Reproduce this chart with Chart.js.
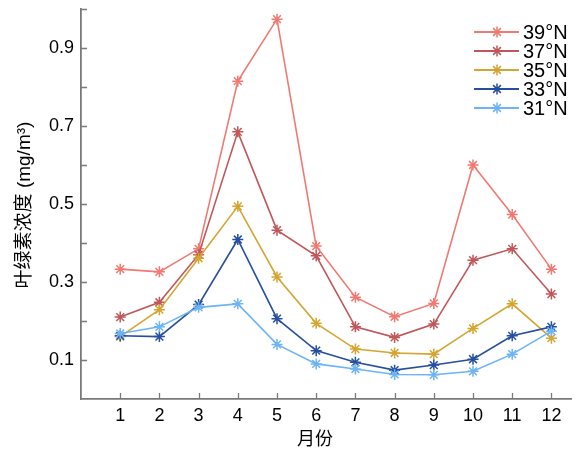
<!DOCTYPE html>
<html>
<head>
<meta charset="utf-8">
<script src="https://cdn.jsdelivr.net/npm/chart.js@4/dist/chart.umd.min.js"></script>
<style>
html,body{margin:0;padding:0;background:#fff;}
#wrap{width:578px;height:450px;position:relative;}
</style>
</head>
<body>
<div id="wrap"><canvas id="c" width="578" height="450"></canvas></div>
<script>
const months = [1,2,3,4,5,6,7,8,9,10,11,12];
const seriesLabels = ['39°N','37°N','35°N','33°N','31°N'];
const v39N = [0.333,0.326,0.385,0.815,0.974,0.392,0.261,0.211,0.245,0.600,0.473,0.333];
const v37N = [0.210,0.248,0.370,0.685,0.433,0.367,0.185,0.158,0.192,0.356,0.385,0.269];
const v35N = [0.160,0.229,0.361,0.494,0.313,0.194,0.128,0.118,0.115,0.181,0.244,0.156];
const v33N = [0.162,0.160,0.242,0.409,0.206,0.124,0.094,0.074,0.087,0.102,0.162,0.185];
const v31N = [0.168,0.185,0.235,0.244,0.140,0.090,0.077,0.063,0.062,0.071,0.115,0.174];
const seriesValues = [v39N,v37N,v35N,v33N,v31N];
const seriesColors = ['#F07A72','#C0575A','#D4A530','#264F9E','#6CB4F4'];
const yTickValues = [0.1,0.2,0.3,0.4,0.5,0.6,0.7,0.8,0.9,1.0];
const xTitle = '月份';
const yTitle = '叶绿素浓度 (mg/m³)';

const FONT = "'Liberation Sans', Arial, 'Noto Sans CJK SC', sans-serif";
const AXIS_COLOR = '#7a7a7a';

const datasets = seriesLabels.map((lab, i) => ({
  label: lab,
  data: months.map((m, j) => ({x: m, y: seriesValues[i][j]})),
  borderColor: seriesColors[i],
  backgroundColor: seriesColors[i],
  borderWidth: 1.6,
  pointStyle: 'star',
  pointRadius: 5.5,
  pointBorderWidth: 1.5,
  pointBorderColor: seriesColors[i],
  tension: 0,
  order: seriesLabels.length - i
}));

function zeroPad(s) { s.paddingTop = 0; s.paddingBottom = 0; s.paddingLeft = 0; s.paddingRight = 0; }

const decorPlugin = {
  id: 'decor',
  afterDraw(chart) {
    const ctx = chart.ctx;
    const xs = chart.scales.x, ys = chart.scales.y;
    const a = chart.chartArea;
    ctx.save();
    // inward tick marks
    ctx.strokeStyle = AXIS_COLOR;
    ctx.lineWidth = 1.3;
    ctx.beginPath();
    months.forEach(m => {
      const px = Math.round(xs.getPixelForValue(m)) + 0.5;
      ctx.moveTo(px, a.bottom);
      ctx.lineTo(px, a.bottom - 6);
    });
    yTickValues.forEach(v => {
      const py = Math.round(ys.getPixelForValue(v)) + 0.5;
      ctx.moveTo(a.left, py);
      ctx.lineTo(a.left + 6, py);
    });
    ctx.stroke();

    // axis titles
    ctx.fillStyle = '#000';
    ctx.font = "18px 'Noto Sans CJK SC', " + FONT;
    ctx.textAlign = 'center';
    ctx.textBaseline = 'middle';
    ctx.fillText(xTitle, (a.left + a.right) / 2 - 11, 438);
    ctx.save();
    ctx.translate(25, (a.top + a.bottom) / 2 + 1);
    ctx.rotate(-Math.PI / 2);
    ctx.font = "19px " + FONT;
    ctx.fillText(yTitle, 0, 0);
    ctx.restore();

    // legend
    const lx0 = 474, lx1 = 519, mx = 497, tx = 523;
    const rows = [32, 51, 70, 89, 108];
    ctx.font = "20px " + FONT;
    ctx.textAlign = 'left';
    ctx.textBaseline = 'middle';
    seriesLabels.forEach((lab, i) => {
      const y = rows[i];
      ctx.strokeStyle = seriesColors[i];
      ctx.lineWidth = 1.8;
      ctx.beginPath();
      ctx.moveTo(lx0, y);
      ctx.lineTo(lx1, y);
      ctx.stroke();
      ctx.lineWidth = 1.5;
      Chart.helpers.drawPoint(ctx, {pointStyle: 'star', radius: 5.5, rotation: 0, borderWidth: 1.5}, mx, y);
      ctx.fillStyle = '#000';
      ctx.fillText(lab, tx, y + 1);
    });
    ctx.restore();
  }
};

new Chart(document.getElementById('c'), {
  type: 'line',
  data: {datasets},
  options: {
    responsive: false,
    animation: false,
    devicePixelRatio: 1,
    layout: {padding: {left: 0, right: 4, top: 9, bottom: 0}},
    plugins: {legend: {display: false}, tooltip: {enabled: false}},
    scales: {
      x: {
        type: 'linear',
        min: 0, max: 12.5,
        afterFit(s) { s.height = 51; zeroPad(s); },
        ticks: {
          stepSize: 1,
          includeBounds: false,
          autoSkip: false,
          maxRotation: 0,
          padding: 6,
          color: '#000',
          font: {family: FONT, size: 18},
          callback: (v) => (Number.isInteger(v) && months.includes(v)) ? String(v) : null
        },
        grid: {display: true, drawOnChartArea: false, drawTicks: false},
        border: {display: true, color: AXIS_COLOR, width: 1.8}
      },
      y: {
        type: 'linear',
        min: 0, max: 1.0,
        afterFit(s) { s.width = 81; zeroPad(s); },
        ticks: {
          stepSize: 0.1,
          padding: 7,
          color: '#000',
          font: {family: FONT, size: 18},
          callback: (v) => { const t = Math.round(v * 10); return (t % 2 === 1) ? (t / 10).toFixed(1) : null; }
        },
        grid: {display: true, drawOnChartArea: false, drawTicks: false},
        border: {display: true, color: AXIS_COLOR, width: 1.8}
      }
    }
  },
  plugins: [decorPlugin]
});
</script>
</body>
</html>
